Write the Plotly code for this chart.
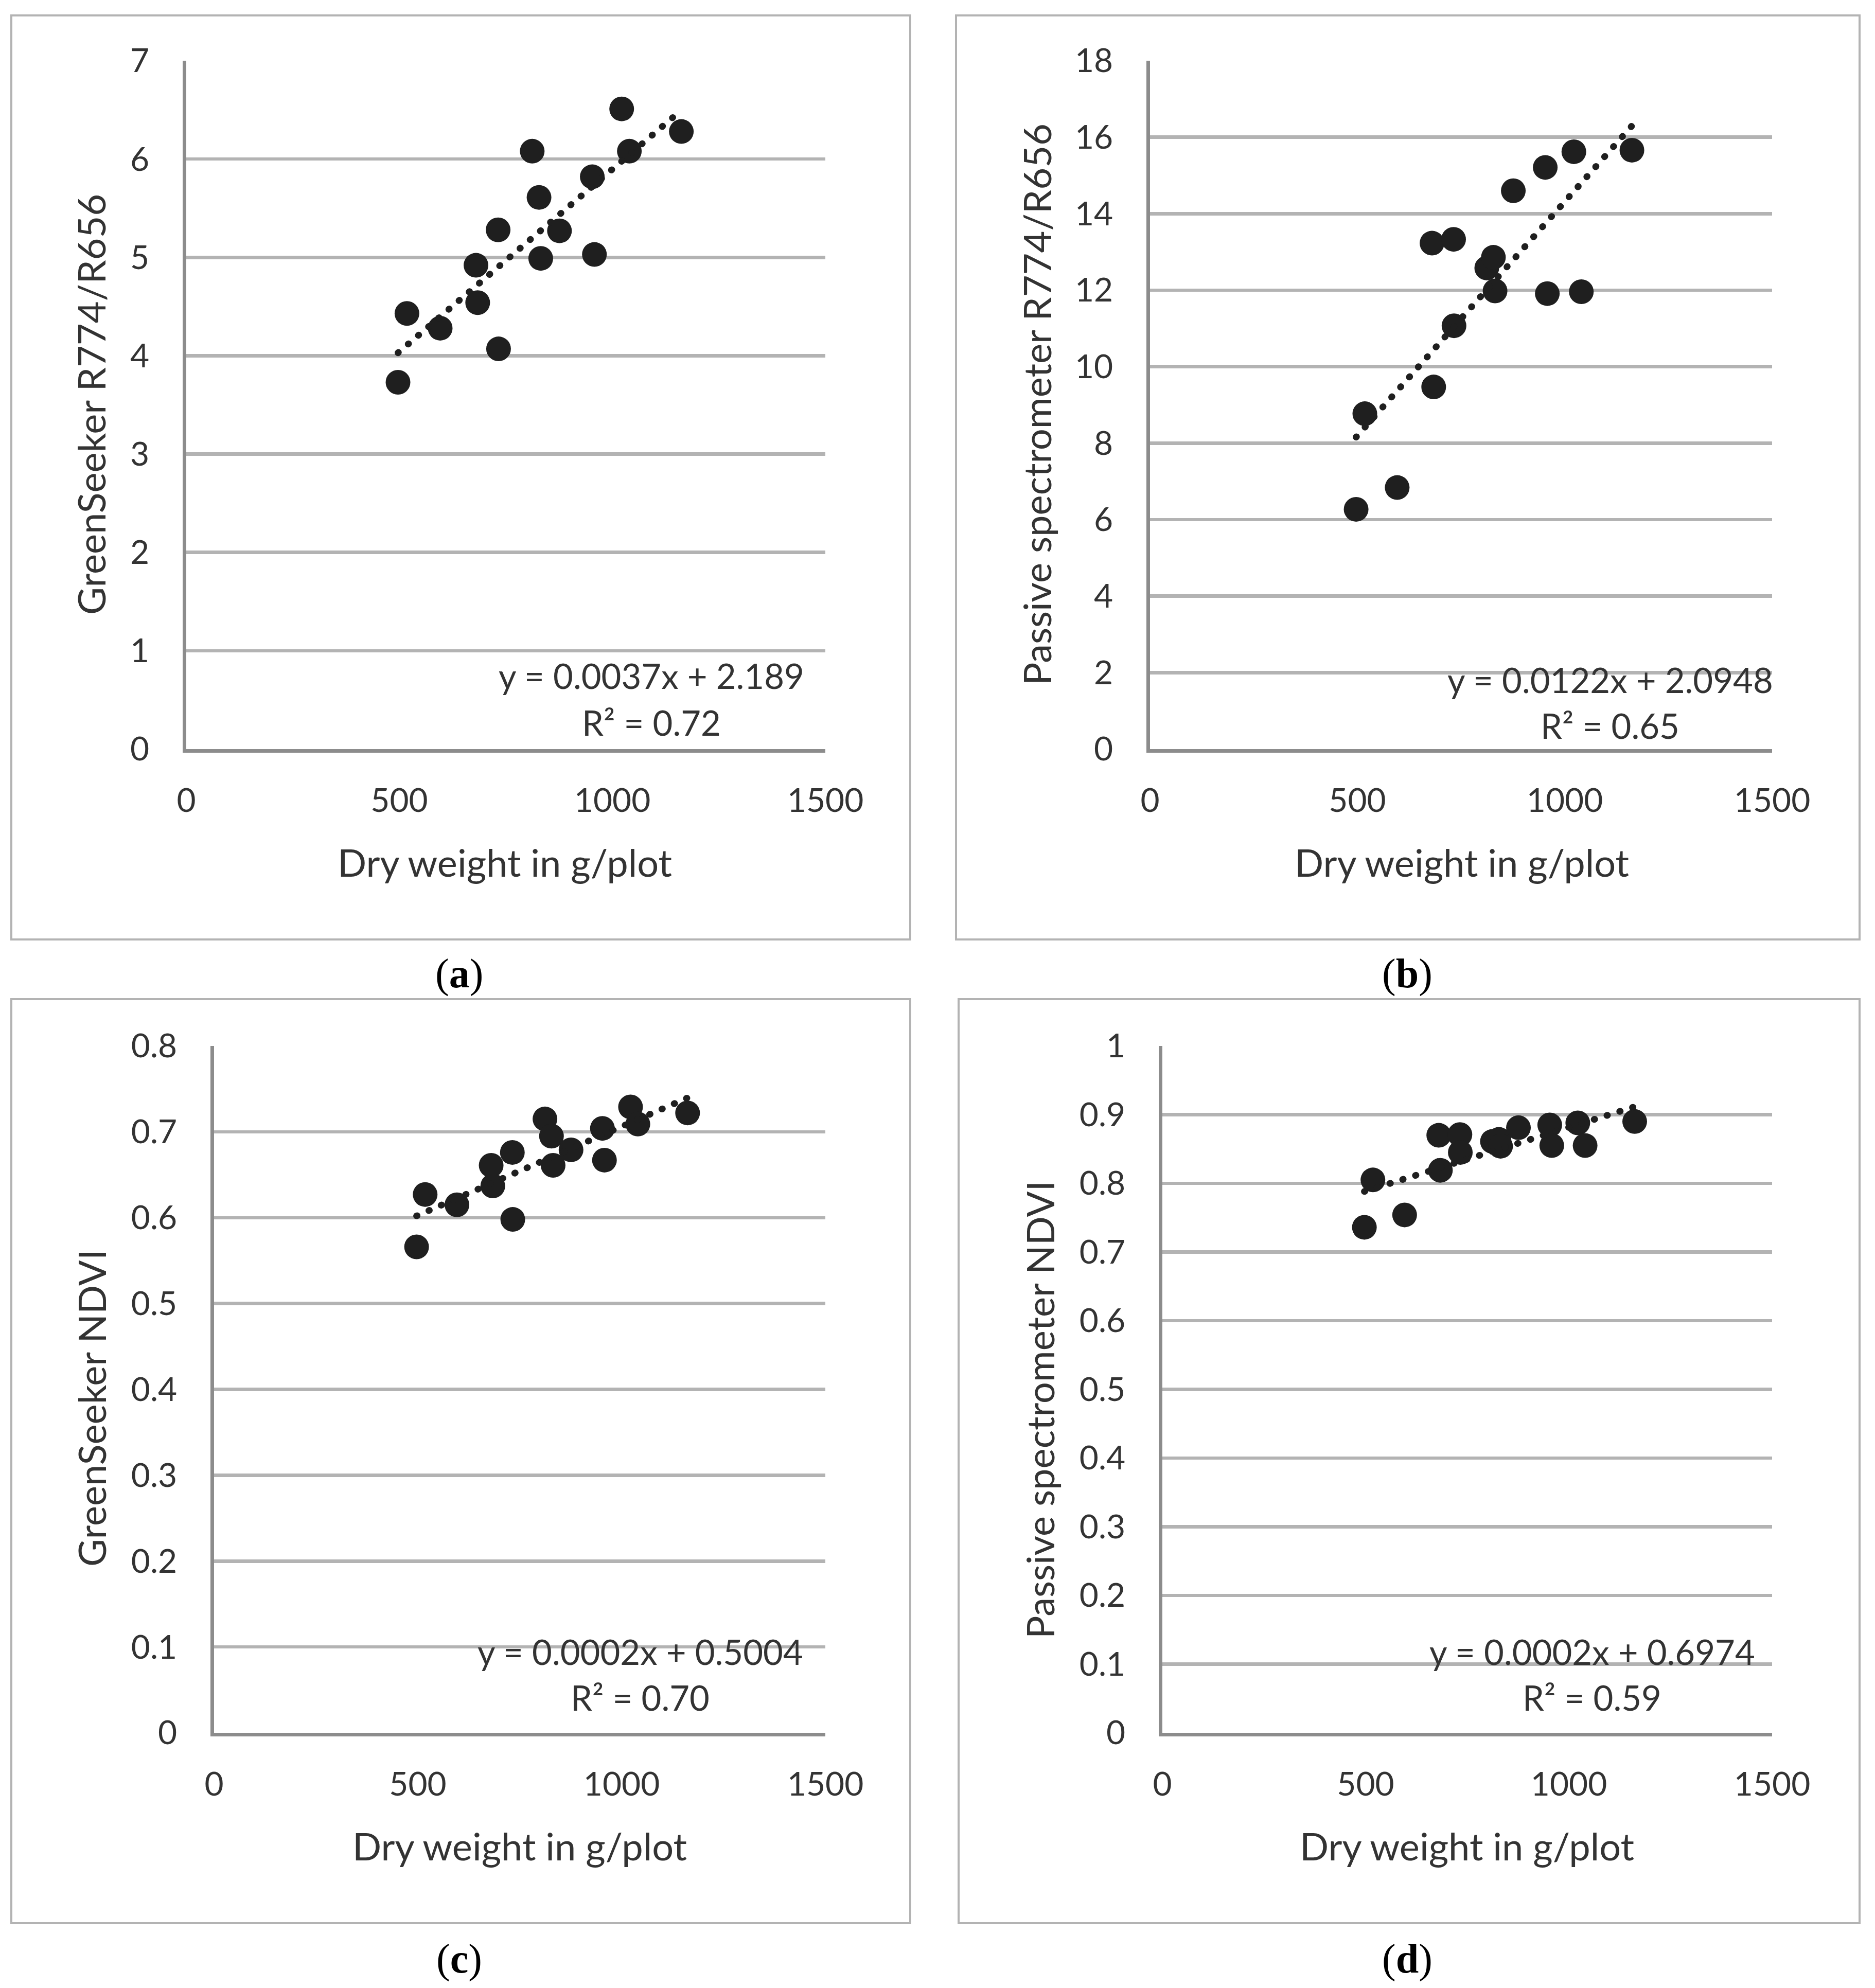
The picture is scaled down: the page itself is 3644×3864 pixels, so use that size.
import numpy as np
import plotly.graph_objects as go

# ---------------- data ----------------
dry_weight = [497, 518, 596, 680, 684, 732, 733, 812, 828, 832, 876, 953, 958, 1022, 1040, 1162]
gs_ratio = [3.73, 4.43, 4.28, 4.92, 4.54, 5.28, 4.07, 6.08, 5.61, 4.99, 5.27, 5.82, 5.03, 6.51, 6.08, 6.28]
ps_ratio = [6.27, 8.77, 6.84, 13.23, 9.47, 13.33, 11.07, 12.58, 12.86, 11.98, 14.60, 15.21, 11.91, 15.62, 11.96, 15.66]
gs_ndvi = [0.566, 0.627, 0.615, 0.661, 0.637, 0.676, 0.598, 0.715, 0.695, 0.661, 0.679, 0.704, 0.667, 0.729, 0.709, 0.722]
ps_ndvi = [0.736, 0.805, 0.754, 0.870, 0.819, 0.871, 0.845, 0.861, 0.864, 0.854, 0.881, 0.885, 0.855, 0.888, 0.855, 0.890]

x_ticks = [0, 500, 1000, 1500]
a_ticks = [0, 1, 2, 3, 4, 5, 6, 7]
b_ticks = [0, 2, 4, 6, 8, 10, 12, 14, 16, 18]
c_ticks = [0, 0.1, 0.2, 0.3, 0.4, 0.5, 0.6, 0.7, 0.8]
c_labels = ["0", "0.1", "0.2", "0.3", "0.4", "0.5", "0.6", "0.7", "0.8"]
d_ticks = [0, 0.1, 0.2, 0.3, 0.4, 0.5, 0.6, 0.7, 0.8, 0.9, 1.0]
d_labels = ["0", "0.1", "0.2", "0.3", "0.4", "0.5", "0.6", "0.7", "0.8", "0.9", "1"]

x_title = "Dry weight in g/plot"
y_titles = ["GreenSeeker R774/R656", "Passive spectrometer R774/R656",
            "GreenSeeker NDVI", "Passive spectrometer NDVI"]
equations = ["y = 0.0037x + 2.189", "y = 0.0122x + 2.0948",
             "y = 0.0002x + 0.5004", "y = 0.0002x + 0.6974"]
r2_texts = ["R² = 0.72", "R² = 0.65", "R² = 0.70", "R² = 0.59"]
panel_letters = ["a", "b", "c", "d"]

# ---------------- layout geometry (pixels) ----------------
W, H = 3644, 3864
FONT = "Lato"
TXT = "#333333"

panels = [
    dict(y=gs_ratio, ticks=a_ticks, labels=[str(t) for t in a_ticks], yr=[0, 7],
         px=(362, 1604), py=(1456, 118), box=(22, 30, 1769, 1826),
         xt=(981, 1675), yt=(177, 786), eq=(1266, 1313, 1404), lab=(892, 1892)),
    dict(y=ps_ratio, ticks=b_ticks, labels=[str(t) for t in b_ticks], yr=[0, 18],
         px=(2235, 3444), py=(1456, 118), box=(1858, 30, 3614, 1826),
         xt=(2841, 1675), yt=(2015, 786), eq=(3129, 1321, 1410), lab=(2735, 1892)),
    dict(y=gs_ndvi, ticks=c_ticks, labels=c_labels, yr=[0, 0.8],
         px=(416, 1604), py=(3368, 2033), box=(22, 1942, 1769, 3738),
         xt=(1010, 3587), yt=(177, 2737), eq=(1244, 3210, 3299), lab=(892, 3807)),
    dict(y=ps_ndvi, ticks=d_ticks, labels=d_labels, yr=[0, 1.0],
         px=(2259, 3444), py=(3368, 2033), box=(1863, 1942, 3614, 3738),
         xt=(2851, 3587), yt=(2020, 2740), eq=(3094, 3210, 3299), lab=(2735, 3807)),
]

def fx(p):
    return p / W

def fy(p):
    return 1 - p / H

fig = go.Figure()
annotations = []
shapes = []
x = np.array(dry_weight, dtype=float)

for i, p in enumerate(panels):
    n = "" if i == 0 else str(i + 1)
    xa, ya = "x" + n, "y" + n
    y = np.array(p["y"], dtype=float)

    fig.add_trace(go.Scatter(
        x=x, y=y, mode="markers", xaxis=xa, yaxis=ya, showlegend=False,
        marker=dict(size=48, color="#1f1f1f", line=dict(width=0)),
        cliponaxis=False,
    ))
    slope, intercept = np.polyfit(x, y, 1)
    xs = np.array([x.min(), x.max()])
    fig.add_trace(go.Scatter(
        x=xs, y=slope * xs + intercept, mode="lines", xaxis=xa, yaxis=ya,
        showlegend=False, line=dict(color="#1f1f1f", width=13, dash="1px,25px"),
        cliponaxis=False,
    ))

    fig.layout["xaxis" + n] = dict(
        domain=[fx(p["px"][0]), fx(p["px"][1])], anchor=ya, range=[0, 1500],
        tickvals=x_ticks, ticktext=[str(t) for t in x_ticks], ticks="",
        showgrid=False, zeroline=False, showline=True, linecolor="#8c8c8c",
        linewidth=7, tickfont=dict(family=FONT, size=64, color=TXT),
        ticklabelstandoff=38, fixedrange=True, automargin=False,
    )
    fig.layout["yaxis" + n] = dict(
        domain=[fy(p["py"][0]), fy(p["py"][1])], anchor=xa, range=p["yr"],
        tickvals=p["ticks"], ticktext=p["labels"], ticks="",
        showgrid=True, gridcolor="#b3b3b3", gridwidth=6.5, zeroline=False,
        showline=True, linecolor="#8c8c8c", linewidth=7,
        tickfont=dict(family=FONT, size=64, color=TXT),
        ticklabelstandoff=52, fixedrange=True, automargin=False,
    )

    bx0, by0, bx1, by1 = p["box"]
    shapes.append(dict(type="rect", xref="paper", yref="paper",
                       x0=fx(bx0), x1=fx(bx1), y0=fy(by1), y1=fy(by0),
                       line=dict(color="#b3b3b3", width=4), fillcolor="rgba(0,0,0,0)",
                       layer="below"))

    annotations.append(dict(text=x_title, xref="paper", yref="paper",
                            x=fx(p["xt"][0]), y=fy(p["xt"][1]), showarrow=False,
                            xanchor="center", yanchor="middle",
                            font=dict(family=FONT, size=74, color=TXT)))
    annotations.append(dict(text=y_titles[i], xref="paper", yref="paper",
                            x=fx(p["yt"][0]), y=fy(p["yt"][1]), showarrow=False,
                            xanchor="center", yanchor="middle", textangle=-90,
                            font=dict(family=FONT, size=74, color=TXT)))
    annotations.append(dict(text=equations[i], xref="paper", yref="paper",
                            x=fx(p["eq"][0]), y=fy(p["eq"][1]), showarrow=False,
                            xanchor="center", yanchor="middle",
                            font=dict(family=FONT, size=67, color=TXT)))
    annotations.append(dict(text=r2_texts[i], xref="paper", yref="paper",
                            x=fx(p["eq"][0]), y=fy(p["eq"][2]), showarrow=False,
                            xanchor="center", yanchor="middle",
                            font=dict(family=FONT, size=67, color=TXT)))
    annotations.append(dict(text="(<b>" + panel_letters[i] + "</b>)", xref="paper", yref="paper",
                            x=fx(p["lab"][0]), y=fy(p["lab"][1]), showarrow=False,
                            xanchor="center", yanchor="middle",
                            font=dict(family="Liberation Serif", size=80, color="#000000")))

fig.update_layout(
    width=W, height=H, margin=dict(l=0, r=0, t=0, b=0, pad=0, autoexpand=False),
    paper_bgcolor="white", plot_bgcolor="white",
    annotations=annotations, shapes=shapes, showlegend=False,
)

post = """
document.body.style.margin = '0';
var gd = document.getElementById('{plot_id}');
function roundCaps(){
  gd.querySelectorAll('.scatterlayer .js-line').forEach(function(p){
    p.style.strokeLinecap = 'round';
  });
}
roundCaps();
if (gd.on) { gd.on('plotly_afterplot', roundCaps); }
"""

fig.write_html("out.html", post_script=post, config=dict(staticPlot=True))
